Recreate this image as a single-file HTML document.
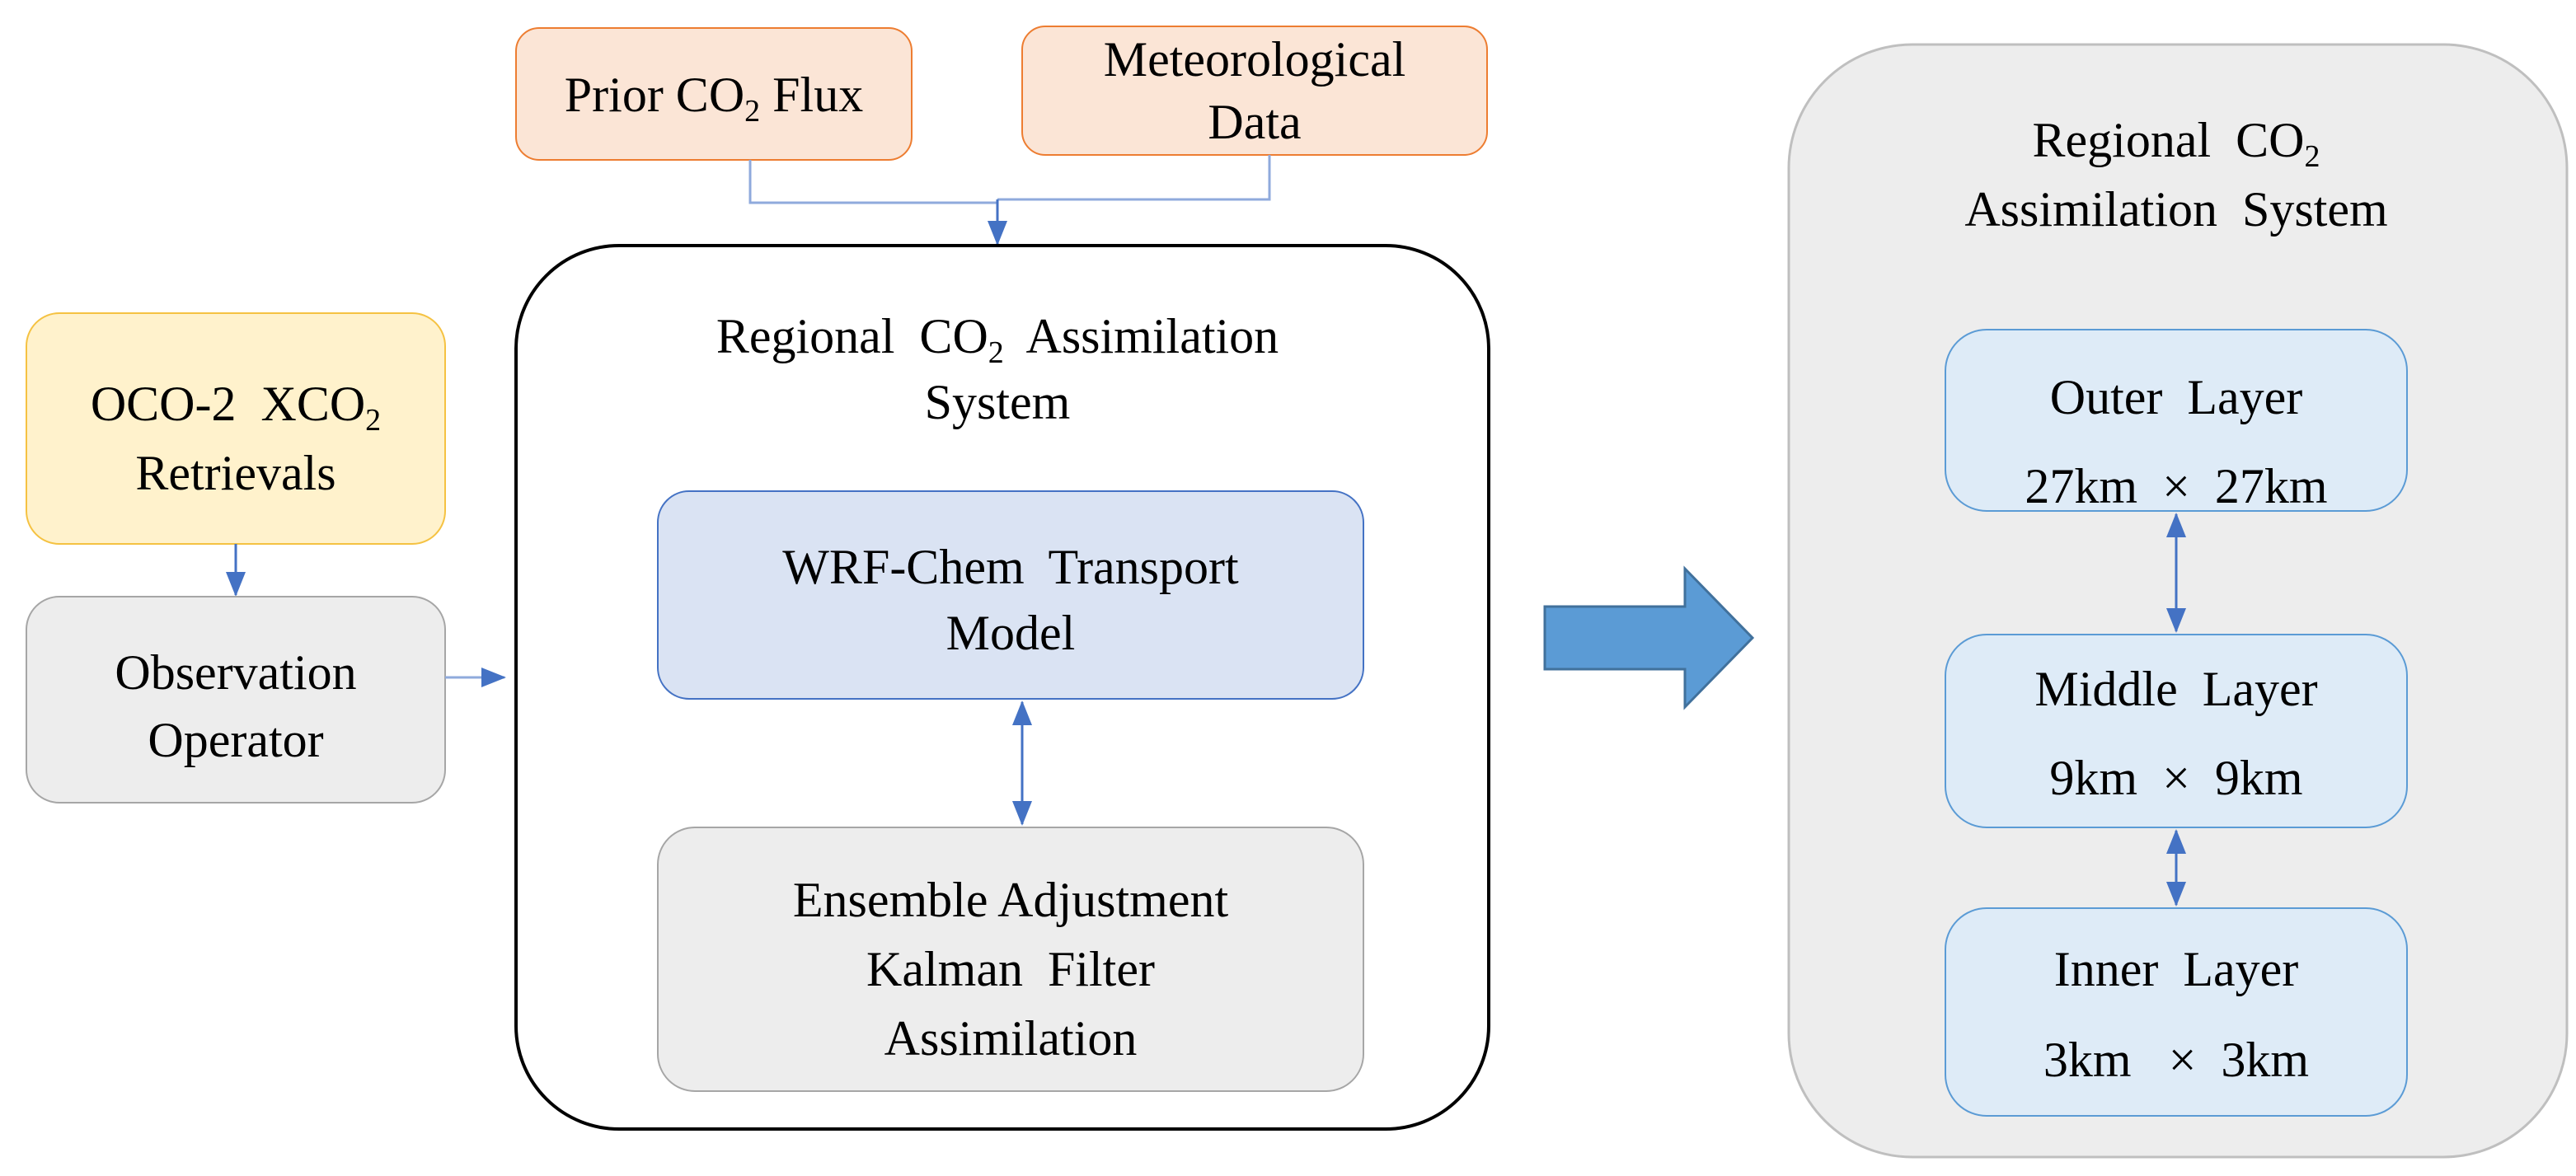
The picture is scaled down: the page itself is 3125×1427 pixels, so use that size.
<!DOCTYPE html>
<html><head><meta charset="utf-8"><style>html,body{margin:0;padding:0;background:#fff}svg{display:block}
text{font-family:"Liberation Serif","Times New Roman","Noto Serif CJK SC","DejaVu Serif",serif;font-size:60px;text-anchor:middle;fill:#000}
tspan.s{font-size:38px}</style></head><body>
<svg width="3125" height="1427" viewBox="0 0 3125 1427" xmlns="http://www.w3.org/2000/svg">
<defs>
<marker id="b" markerWidth="30" markerHeight="30" refX="28" refY="15" orient="auto-start-reverse" markerUnits="userSpaceOnUse"><path d="M0,3 L30,15 L0,27 z" fill="#4472c4"/></marker>
</defs>
<rect x="626" y="34" width="480" height="160" rx="28" fill="#fbe5d6" stroke="#ed7d31" stroke-width="2"/>
<text x="866" y="135">Prior CO<tspan class="s" dy="12">2</tspan><tspan dy="-12"> Flux</tspan></text>
<rect x="1240" y="32" width="564" height="156" rx="28" fill="#fbe5d6" stroke="#ed7d31" stroke-width="2"/>
<text x="1522" y="92">Meteorological</text>
<text x="1522" y="168">Data</text>
<path d="M910,194 V246 H1210" fill="none" stroke="#8faadc" stroke-width="3"/>
<path d="M1540,188 V242 H1210" fill="none" stroke="#8faadc" stroke-width="3"/>
<line x1="1210" y1="242" x2="1210" y2="296" stroke="#4472c4" stroke-width="3" marker-end="url(#b)"/>
<rect x="626" y="298" width="1180" height="1072" rx="125" fill="#fff" stroke="#000" stroke-width="4"/>
<text x="1210" y="428" xml:space="preserve">Regional  CO<tspan class="s" dy="12">2</tspan><tspan dy="-12">  Assimilation</tspan></text>
<text x="1210" y="508">System</text>
<rect x="798" y="596" width="856" height="252" rx="38" fill="#dae3f3" stroke="#4472c4" stroke-width="2"/>
<text x="1226" y="708" xml:space="preserve">WRF-Chem  Transport</text>
<text x="1226" y="788">Model</text>
<line x1="1240" y1="852" x2="1240" y2="1000" stroke="#4472c4" stroke-width="3" marker-start="url(#b)" marker-end="url(#b)"/>
<rect x="798" y="1004" width="856" height="320" rx="45" fill="#ededed" stroke="#a6a6a6" stroke-width="2"/>
<text x="1226" y="1112">Ensemble Adjustment</text>
<text x="1226" y="1196" xml:space="preserve">Kalman  Filter</text>
<text x="1226" y="1280">Assimilation</text>
<rect x="32" y="380" width="508" height="280" rx="40" fill="#fff2cc" stroke="#f5c242" stroke-width="2"/>
<text x="286" y="510" xml:space="preserve">OCO-2  XCO<tspan class="s" dy="12">2</tspan></text>
<text x="286" y="594">Retrievals</text>
<line x1="286" y1="660" x2="286" y2="722" stroke="#4472c4" stroke-width="3" marker-end="url(#b)"/>
<rect x="32" y="724" width="508" height="250" rx="40" fill="#ededed" stroke="#a6a6a6" stroke-width="2"/>
<text x="286" y="836">Observation</text>
<text x="286" y="918">Operator</text>
<line x1="540" y1="822" x2="612" y2="822" stroke="#8faadc" stroke-width="3" marker-end="url(#b)"/>
<path d="M1874,736 H2044 V690 L2126,774 L2044,858 V812 H1874 Z" fill="#5b9bd5" stroke="#41719c" stroke-width="3"/>
<rect x="2170" y="54" width="944" height="1350" rx="150" fill="#ededed" stroke="#bfbfbf" stroke-width="3"/>
<text x="2640" y="190" xml:space="preserve">Regional  CO<tspan class="s" dy="12">2</tspan></text>
<text x="2640" y="274" xml:space="preserve">Assimilation  System</text>
<rect x="2360" y="400" width="560" height="220" rx="50" fill="#deebf7" stroke="#5b9bd5" stroke-width="2"/>
<text x="2640" y="502" xml:space="preserve">Outer  Layer</text>
<text x="2640" y="610" xml:space="preserve">27km  ×  27km</text>
<line x1="2640" y1="624" x2="2640" y2="766" stroke="#4472c4" stroke-width="3" marker-start="url(#b)" marker-end="url(#b)"/>
<rect x="2360" y="770" width="560" height="234" rx="50" fill="#deebf7" stroke="#5b9bd5" stroke-width="2"/>
<text x="2640" y="856" xml:space="preserve">Middle  Layer</text>
<text x="2640" y="964" xml:space="preserve">9km  ×  9km</text>
<line x1="2640" y1="1008" x2="2640" y2="1098" stroke="#4472c4" stroke-width="3" marker-start="url(#b)" marker-end="url(#b)"/>
<rect x="2360" y="1102" width="560" height="252" rx="50" fill="#deebf7" stroke="#5b9bd5" stroke-width="2"/>
<text x="2640" y="1196" xml:space="preserve">Inner  Layer</text>
<text x="2640" y="1306" xml:space="preserve">3km   ×  3km</text>
</svg>
</body></html>
